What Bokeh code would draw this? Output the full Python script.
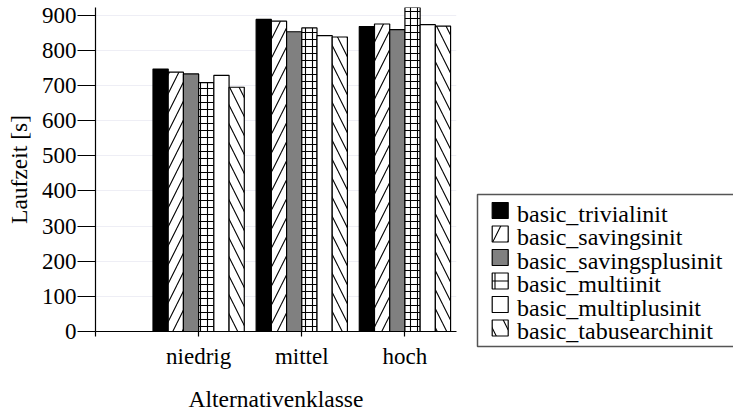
from bokeh.plotting import figure
from bokeh.layouts import row
from bokeh.models import FixedTicker, Range1d, ColumnDataSource
from bokeh.core.properties import value
from bokeh.embed import file_html
from bokeh.resources import INLINE

# ---- data ----
categories = ["", "niedrig", "mittel", "hoch"]
series_names = ["basic_trivialinit", "basic_savingsinit", "basic_savingsplusinit",
                "basic_multiinit", "basic_multiplusinit", "basic_tabusearchinit"]
trivialinit = [747, 888, 868]
savingsinit = [738, 883, 875]
savingsplusinit = [733, 853, 859]
multiinit = [708, 864, 922]
multiplusinit = [729, 842, 873]
tabusearchinit = [695, 838, 869]
y_ticks = [0, 100, 200, 300, 400, 500, 600, 700, 800, 900]

series_values = [trivialinit, savingsinit, savingsplusinit, multiinit, multiplusinit, tabusearchinit]

# ---- styles ----
fills = ["black", "white", "#808080", "white", "white", "white"]
hatches = ["", "/", "", "+", "", "\\"]
hatch_scales = [10, 19, 10, 7, 10, 19]
legend_hatch_scales = [16, 30, 16, 16, 16, 30]

FONT = "Liberation Serif"

# ---------------- main chart ----------------
p = figure(width=470, height=414,
           x_range=Range1d(0, 3.5), y_range=Range1d(0, 922),
           output_backend="svg", toolbar_location=None,
           min_border_left=95, min_border_top=7, min_border_bottom=76, min_border_right=14)
p.frame_align = False
p.outline_line_color = None
p.background_fill_color = "white"
p.border_fill_color = "white"

bar_w = 0.885 / len(series_names)
for j, (name, vals) in enumerate(zip(series_names, series_values)):
    xs = [i + 1 + (j - 2.5) * bar_w for i in range(len(vals))]
    src = ColumnDataSource(dict(x=xs, top=vals))
    kw = dict(x="x", top="top", width=bar_w, bottom=0, source=src,
              fill_color=fills[j], line_color="black", line_width=1.2)
    if hatches[j]:
        kw.update(hatch_pattern=hatches[j], hatch_color="black",
                  hatch_weight=1.1, hatch_scale=hatch_scales[j])
    p.vbar(**kw)

p.xaxis.ticker = FixedTicker(ticks=list(range(len(categories))))
p.xaxis.major_label_overrides = {i: c for i, c in enumerate(categories)}
p.xaxis.axis_label = "Alternativenklasse"
p.yaxis.ticker = FixedTicker(ticks=y_ticks)
p.yaxis.axis_label = "Laufzeit [s]"
for ax in (p.xaxis[0], p.yaxis[0]):
    ax.axis_label_text_font = FONT
    ax.axis_label_text_font_size = "23.5px"
    ax.axis_label_text_font_style = "normal"
    ax.major_label_text_font = FONT
    ax.major_label_text_font_size = "23px"
    ax.axis_line_color = "black"
    ax.axis_line_width = 1.2
    ax.major_tick_line_color = "black"
    ax.major_tick_line_width = 1.2
    ax.minor_tick_line_color = None
    ax.major_tick_in = 0
    ax.axis_label_text_color = "black"
    ax.major_label_text_color = "black"
p.yaxis.major_tick_out = 18
p.yaxis.major_label_standoff = 1
p.yaxis.axis_label_standoff = 7
p.xaxis.major_tick_out = 5
p.xaxis.major_label_standoff = 7
p.xaxis.axis_label_standoff = 14

p.xgrid.grid_line_color = None
p.ygrid.ticker = FixedTicker(ticks=y_ticks)
p.ygrid.grid_line_color = "#eeeef5"
p.ygrid.grid_line_width = 1

# ---------------- legend panel ----------------
LW, LH = 263, 414
q = figure(width=LW, height=LH, x_range=Range1d(0, LW), y_range=Range1d(LH, 0),
           output_backend="svg", toolbar_location=None,
           x_axis_location=None, y_axis_location=None,
           min_border=0, min_border_left=0, min_border_right=0,
           min_border_top=0, min_border_bottom=0)
q.frame_align = False
q.grid.visible = False
q.outline_line_color = None
q.background_fill_color = "white"
q.border_fill_color = "white"

# legend frame (right side runs past the page edge, as in the original)
q.quad(left=[7], right=[LW + 20], top=[194], bottom=[346],
       fill_color="white", line_color="#555555", line_width=1.5)

pitch = 23.5
base0 = 218
n = len(series_names)
baselines = [base0 + pitch * k for k in range(n)]
gsrc = ColumnDataSource(dict(
    left=[21.7] * n, right=[37.7] * n,
    top=[b - 16 for b in baselines], bottom=baselines,
    ty=[b - 5 for b in baselines],
    fill=fills, hatch=hatches, hscale=legend_hatch_scales,
    tx=[46.5] * n, name=series_names))
q.quad(left="left", right="right", top="top", bottom="bottom", source=gsrc,
       fill_color="fill", line_color="black", line_width=1.2,
       hatch_pattern="hatch", hatch_scale="hscale", hatch_color="black",
       hatch_weight=1.1)
q.text(x="tx", y="ty", text="name", source=gsrc,
       text_font=value(FONT), text_font_size="24px", text_color="black",
       text_baseline="alphabetic", text_align="left")

layout = row(p, q, spacing=0)
open("out.html", "w").write(file_html(layout, INLINE))
